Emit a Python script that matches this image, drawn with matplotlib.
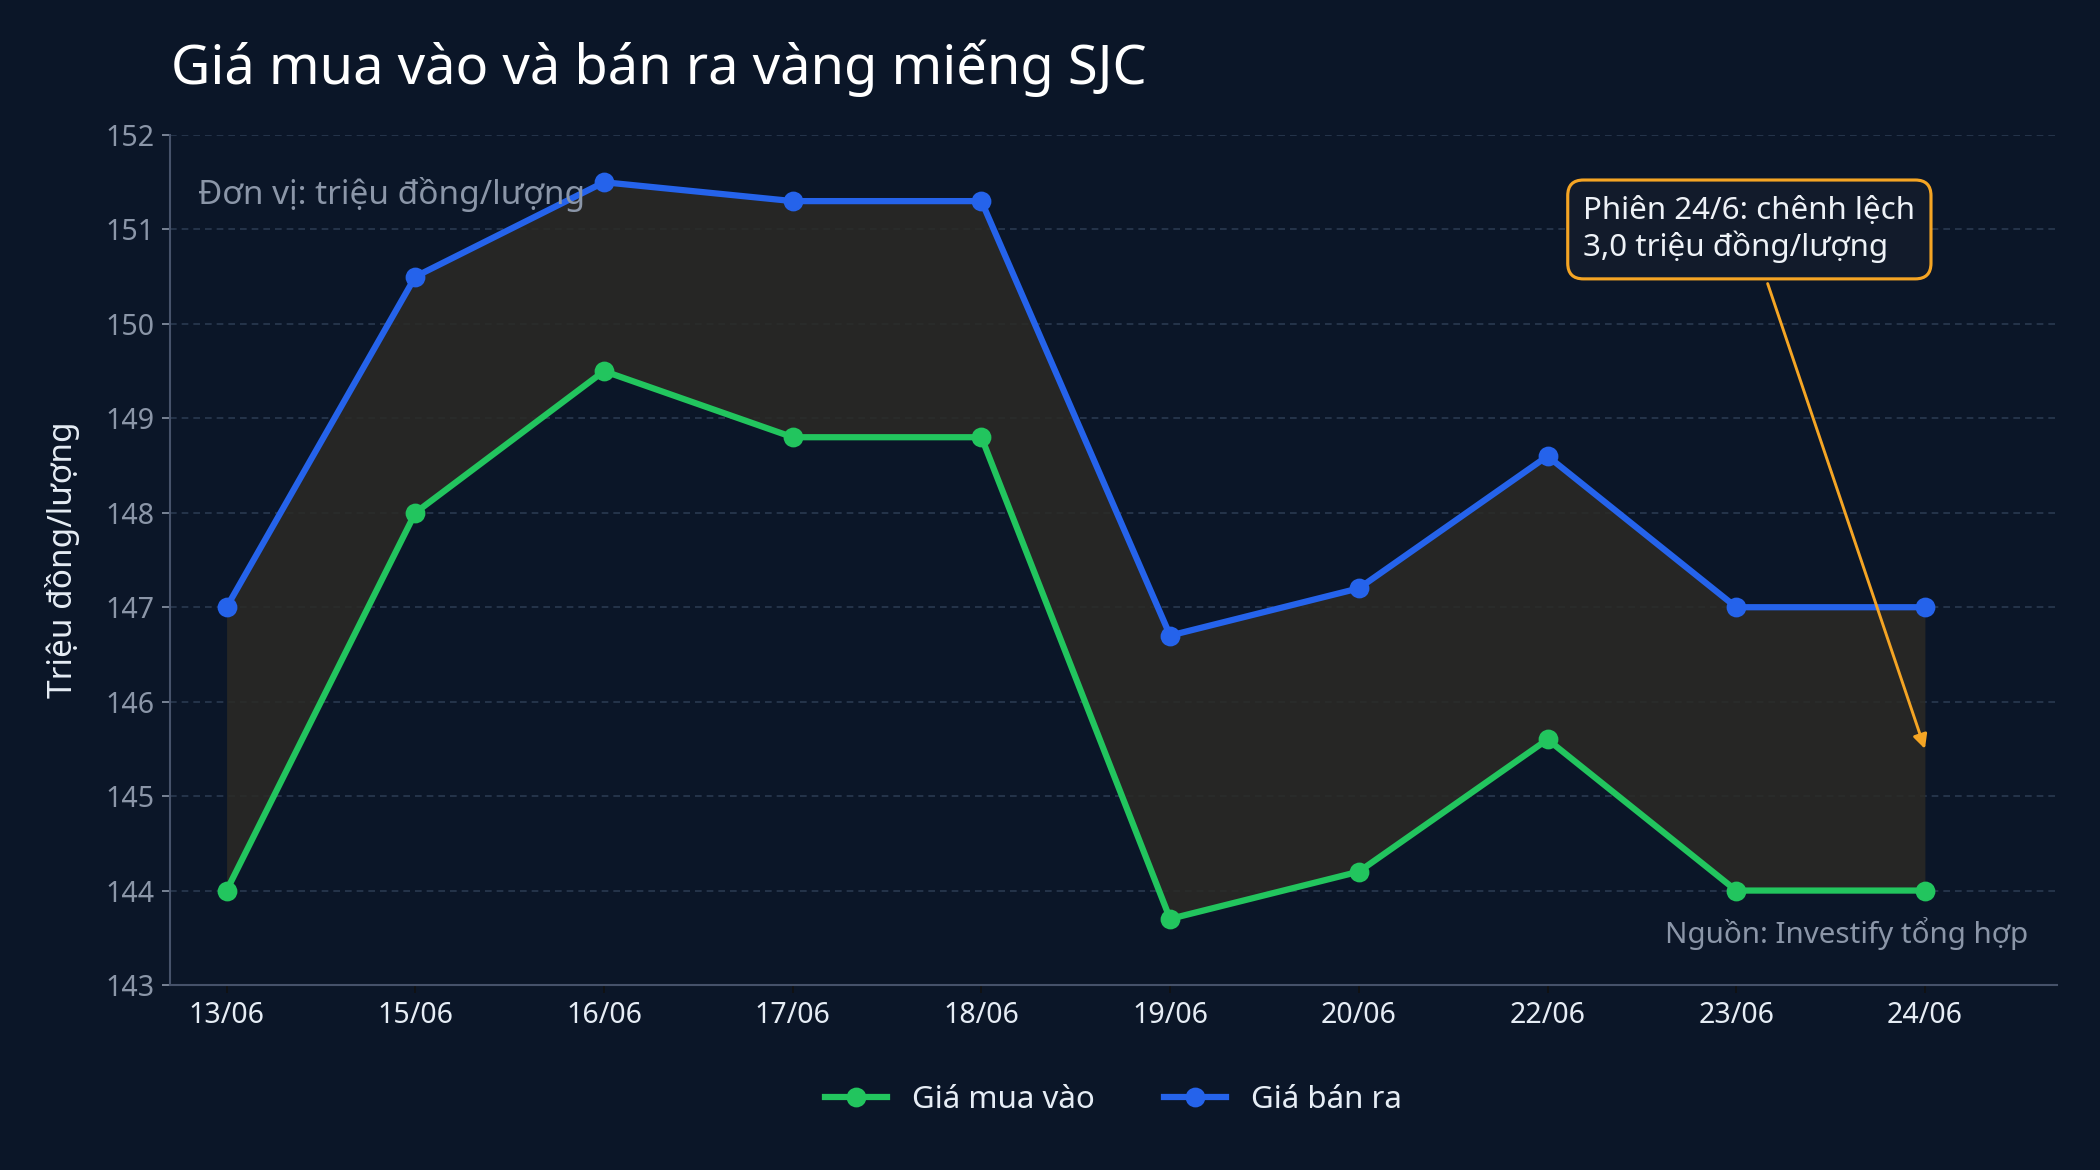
import numpy as np
import matplotlib.pyplot as plt

plt.rcParams['font.family'] = ['Noto Sans', 'DejaVu Sans']

# Data
dates = ['13/06', '15/06', '16/06', '17/06', '18/06', '19/06', '20/06', '22/06', '23/06', '24/06']
buy = [144.0, 148.0, 149.5, 148.8, 148.8, 143.7, 144.2, 145.6, 144.0, 144.0]
sell = [147.0, 150.5, 151.5, 151.3, 151.3, 146.7, 147.2, 148.6, 147.0, 147.0]

bg = '#0b1628'
green = '#22c55e'
blue = '#2563eb'
orange = '#f5a524'
muted = '#8b96a8'

fig = plt.figure(figsize=(14, 7.8), dpi=150, facecolor=bg)
ax = fig.add_axes([170 / 2100, 1 - 985 / 1170, (2057 - 170) / 2100, (985 - 135) / 1170])
ax.set_facecolor(bg)

x = np.arange(len(dates))

# Spread fill between the two series
ax.fill_between(x, buy, sell, color='#2b2a25', alpha=0.85, zorder=1, linewidth=0)

ax.plot(x, buy, color=green, lw=3.0, marker='o', ms=8.5, label='Giá mua vào', zorder=3)
ax.plot(x, sell, color=blue, lw=3.0, marker='o', ms=8.5, label='Giá bán ra', zorder=3)

ax.set_xlim(-0.3, 9.7)
ax.set_ylim(143, 152)
ax.set_yticks(range(143, 153))
ax.set_xticks(x)
ax.set_xticklabels(dates)

ax.yaxis.grid(True, linestyle=(0, (4, 3)), color='#2a3950', linewidth=0.8)
ax.set_axisbelow(True)

for s in ['top', 'right']:
    ax.spines[s].set_visible(False)
for s in ['left', 'bottom']:
    ax.spines[s].set_color('#46526a')
    ax.spines[s].set_linewidth(1.0)

ax.tick_params(axis='y', colors=muted, labelsize=13.7, length=4, labelcolor=muted)
ax.tick_params(axis='x', colors='#111111', labelsize=13.7, length=4, labelcolor='#e6edf5')

ax.set_ylabel('Triệu đồng/lượng', color='#e6edf5', fontsize=16, labelpad=12)

fig.text(171 / 2100, 1 - 68 / 1170, 'Giá mua vào và bán ra vàng miếng SJC',
         color='white', fontsize=26, va='center', ha='left')

ax.text(0.015, 0.93, 'Đơn vị: triệu đồng/lượng', transform=ax.transAxes,
        color=muted, fontsize=16, va='center', ha='left')
ax.text(0.985, 0.06, 'Nguồn: Investify tổng hợp', transform=ax.transAxes,
        color=muted, fontsize=14.2, va='center', ha='right')

ax.annotate('Phiên 24/6: chênh lệch\n3,0 triệu đồng/lượng',
            xy=(9, (buy[-1] + sell[-1]) / 2), xytext=(7.19, 151.0),
            color='#eef2f7', fontsize=15, ha='left', va='center', linespacing=1.2,
            bbox=dict(boxstyle='round,pad=0.5,rounding_size=0.5', fc='#121b2b', ec=orange, lw=1.5),
            arrowprops=dict(arrowstyle='-|>', color=orange, lw=1.4, mutation_scale=14,
                            shrinkA=2, shrinkB=0),
            zorder=5)

leg = ax.legend(loc='upper center', bbox_to_anchor=(0.5, -0.085), ncol=2, frameon=False,
                fontsize=15, labelcolor='#e6edf5', handlelength=2.0, columnspacing=2.2)

fig.savefig('out.png', dpi=150, facecolor=bg)
